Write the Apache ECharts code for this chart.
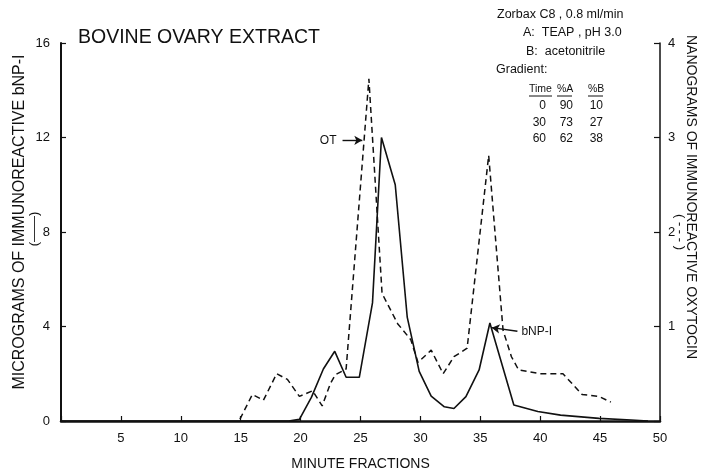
<!DOCTYPE html>
<html>
<head>
<meta charset="utf-8">
<script src="https://cdn.jsdelivr.net/npm/echarts@6/dist/echarts.min.js"></script>
<style>
  html, body { margin: 0; padding: 0; background: #fff; }
  #chart { width: 706px; height: 471px; }
</style>
</head>
<body>
<div id="chart"></div>
<script>
// bNP-I, micrograms (left axis): [fraction, value]
const bnpData = [
  [0, 0], [19, 0], [19.9, 0.07], [20.9, 1.0], [21.9, 2.2], [22.85, 2.95],
  [23.8, 1.85], [24.9, 1.85], [26.0, 5.0], [26.75, 12.0], [27.9, 10.0],
  [28.9, 4.4], [29.9, 2.1], [30.9, 1.05], [32.0, 0.6], [32.8, 0.53],
  [33.8, 1.03], [34.9, 2.16], [35.8, 4.15], [37.8, 0.68], [39.8, 0.4],
  [41.7, 0.25], [44.9, 0.11], [47.6, 0.04], [49, 0]
]
// oxytocin, nanograms (right axis)
const otData = [
  [14.94, 0.02], [15.97, 0.28], [16.9, 0.22], [18.0, 0.5], [18.9, 0.44],
  [19.9, 0.26], [21.0, 0.32], [21.8, 0.16], [22.5, 0.4], [22.9, 0.49],
  [23.8, 0.55], [25.7, 3.62], [26.8, 1.35], [28.1, 1.03], [29.2, 0.86],
  [29.8, 0.62], [30.9, 0.75], [31.9, 0.5], [32.8, 0.68], [33.9, 0.77],
  [35.7, 2.81], [36.9, 0.96], [37.6, 0.68], [38.2, 0.54], [40, 0.5],
  [41.9, 0.5], [43.5, 0.28], [44.9, 0.26], [45.9, 0.2]
]
const gradientHead = ['Time', '%A', '%B']
const gradientRows = [['0', '90', '10'], ['30', '73', '27'], ['60', '62', '38']]
const conditions = ['Zorbax C8 , 0.8 ml/min', 'A:  TEAP , pH 3.0', 'B:  acetonitrile', 'Gradient:']

const ink = '#111'
const font = 'Liberation Sans, Arial, sans-serif'

// header + table text
const graphics = []
const condPos = [[497, 15], [523, 33], [526, 52], [496, 70]]
conditions.forEach((t, i) => {
  graphics.push({
    type: 'text', x: condPos[i][0], y: condPos[i][1],
    style: { text: t, font: '12.5px ' + font, fill: ink, textVerticalAlign: 'middle' }
  })
})
const headX = [529, 557, 588]
const headW = [23, 15, 15]
gradientHead.forEach((t, i) => {
  graphics.push({
    type: 'text', x: headX[i], y: 89,
    style: { text: t, font: '10.5px ' + font, fill: ink, textVerticalAlign: 'middle' }
  })
  graphics.push({
    type: 'line', shape: { x1: headX[i], y1: 96, x2: headX[i] + headW[i], y2: 96 },
    style: { stroke: ink, lineWidth: 1 }
  })
})
const colRight = [546, 573, 603]
gradientRows.forEach((row, r) => {
  row.forEach((t, i) => {
    graphics.push({
      type: 'text', x: colRight[i], y: 106 + r * 16.5,
      style: { text: t, font: '12px ' + font, fill: ink, textAlign: 'right', textVerticalAlign: 'middle' }
    })
  })
})
// axis names
graphics.push(
  {
    type: 'text', x: 20, y: 222, rotation: Math.PI / 2,
    style: { text: 'MICROGRAMS OF IMMUNOREACTIVE bNP-I', font: '16px ' + font, fill: ink, textAlign: 'center', textVerticalAlign: 'middle' }
  },
  {
    type: 'text', x: 34, y: 229, rotation: Math.PI / 2,
    style: { text: '(——)', font: '13px ' + font, fill: ink, textAlign: 'center', textVerticalAlign: 'middle' }
  },
  {
    type: 'text', x: 691, y: 197, rotation: -Math.PI / 2,
    style: { text: 'NANOGRAMS OF IMMUNOREACTIVE OXYTOCIN', font: '14px ' + font, fill: ink, textAlign: 'center', textVerticalAlign: 'middle' }
  },
  {
    type: 'text', x: 680, y: 232, rotation: -Math.PI / 2,
    style: { text: '( - - - )', font: '13px ' + font, fill: ink, textAlign: 'center', textVerticalAlign: 'middle' }
  }
)

const chart = echarts.init(document.getElementById('chart'))
chart.setOption({
  animation: false,
  backgroundColor: '#fff',
  title: {
    text: 'BOVINE OVARY EXTRACT',
    left: 73, top: 23,
    textStyle: { fontFamily: font, fontSize: 19.5, fontWeight: 'normal', color: ink }
  },
  grid: { left: 61, right: 46, top: 43, bottom: 50, containLabel: false, outerBoundsMode: 'none' },
  xAxis: {
    type: 'value', min: 0, max: 50, interval: 5,
    name: 'MINUTE FRACTIONS', nameLocation: 'middle', nameGap: 36,
    nameTextStyle: { fontFamily: font, fontSize: 14, color: ink },
    splitLine: { show: false },
    axisLine: { lineStyle: { color: ink, width: 2.5 } },
    axisTick: { inside: true, length: 5, lineStyle: { color: ink, width: 1.2 } },
    axisLabel: {
      color: ink, fontFamily: font, fontSize: 13, margin: 11,
      formatter: v => (v === 0 ? '' : v)
    }
  },
  yAxis: [
    {
      type: 'value', min: 0, max: 16, interval: 4,
      splitLine: { show: false },
      axisLine: { show: true, lineStyle: { color: ink, width: 2 } },
      axisTick: { show: true, inside: true, length: 5, lineStyle: { color: ink, width: 1.2 } },
      axisLabel: { color: ink, fontFamily: font, fontSize: 13, margin: 11 }
    },
    {
      type: 'value', min: 0, max: 4, interval: 1, position: 'right',
      splitLine: { show: false },
      axisLine: { show: true, lineStyle: { color: ink, width: 1.5 } },
      axisTick: { show: true, inside: true, length: 6, lineStyle: { color: ink, width: 1.2 } },
      axisLabel: {
        color: ink, fontFamily: font, fontSize: 13, margin: 8,
        formatter: v => (v === 0 ? '' : v)
      }
    }
  ],
  series: [
    {
      name: 'bNP-I', type: 'line', yAxisIndex: 0, data: bnpData,
      symbol: 'none', lineStyle: { color: ink, width: 1.6 },
      markLine: {
        silent: true, symbol: ['none', 'arrow'], symbolSize: [7, 8],
        lineStyle: { type: 'solid', color: ink, width: 1.4 },
        label: { show: true, position: 'start', formatter: 'bNP-I', color: ink, fontFamily: font, fontSize: 12, distance: 4 },
        data: [[{ coord: [38.1, 3.8] }, { coord: [35.95, 3.95] }]]
      }
    },
    {
      name: 'OT', type: 'line', yAxisIndex: 1, data: otData,
      symbol: 'none', lineStyle: { color: ink, width: 1.5, type: [6, 4] },
      markLine: {
        silent: true, symbol: ['none', 'arrow'], symbolSize: [7, 8],
        lineStyle: { type: 'solid', color: ink, width: 1.4 },
        label: { show: true, position: 'start', formatter: 'OT', color: ink, fontFamily: font, fontSize: 12, distance: 6 },
        data: [[{ coord: [23.5, 2.97] }, { coord: [25.15, 2.97] }]]
      }
    }
  ],
  graphic: graphics
})
window.addEventListener('resize', () => chart.resize())
</script>
</body>
</html>
